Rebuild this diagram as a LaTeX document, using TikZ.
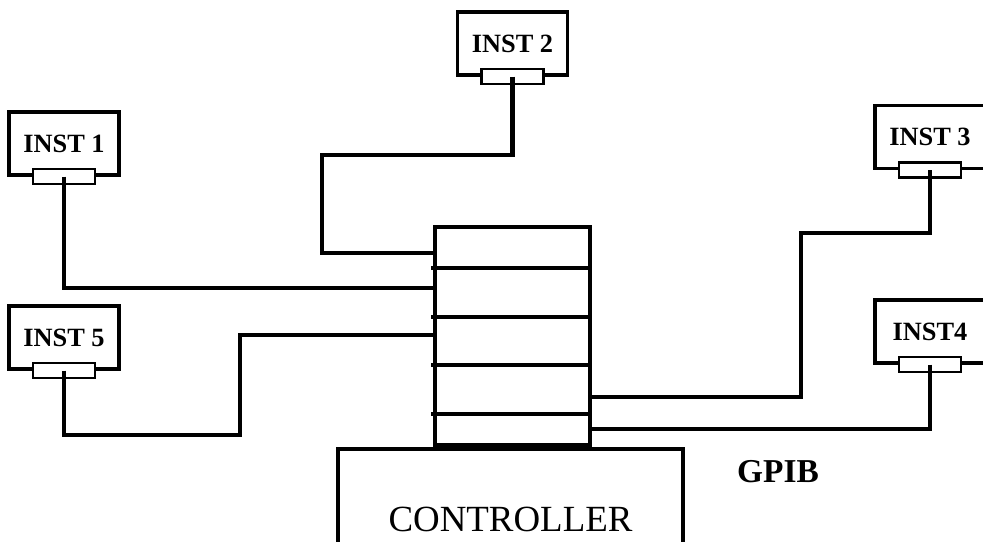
\documentclass[tikz,border=0pt]{standalone}
\usepackage{fontspec}
\setmainfont{Liberation Serif}
\usetikzlibrary{positioning}

\begin{document}
\begin{tikzpicture}[
    x=0.02cm, y=-0.02cm,
    inst/.style={rectangle, draw, line width=1.8pt, fill=white,
        minimum width=2.2cm, minimum height=1.26cm, inner sep=0pt,
        font=\fontsize{15}{15}\selectfont\bfseries},
    port/.style={rectangle, draw, line width=1.6pt, fill=white,
        minimum width=1.24cm, minimum height=0.3cm, inner sep=0pt},
    busbox/.style={rectangle, draw, line width=2.2pt,
        minimum width=3.1cm, minimum height=4.36cm, inner sep=0pt},
    ctrl/.style={rectangle, draw, line width=1.8pt,
        minimum width=6.9cm, minimum height=2.8cm, inner sep=0pt,
        font=\fontsize{21}{21}\selectfont},
    wire/.style={line width=2.8pt},
    busline/.style={line width=2.2pt}
]
\useasboundingbox (0,0) rectangle (983,541);
\clip (0,0) rectangle (983,541);
\node[inst] (i1) at (64,143.5) {INST 1};
\node[inst] (i2) at (512.5,43.5) {INST 2};
\node[inst] (i3) at (930,137) {INST 3};
\node[inst] (i4) at (930,331.5) {INST4};
\node[inst] (i5) at (64,337.5) {INST 5};
\node[port] (p1) at (i1.south) {};
\node[port] (p2) at (i2.south) {};
\node[port] (p3) at (i3.south) {};
\node[port] (p4) at (i4.south) {};
\node[port] (p5) at (i5.south) {};
\node[busbox] (bus) at (512.5,336) {};
\foreach \y in {268,317,365,414}
    \draw[busline] (431,\y) -- (bus.east |- 0,\y);
\node[ctrl] (ctrl) at (510.5,519) {CONTROLLER};
\node[font=\fontsize{19}{19}\selectfont\bfseries] (gpib) at (778,472) {GPIB};
\draw[wire] (p1.center) |- (bus.west |- 0,288);
\draw[wire] (p2.center) |- (322,155) |- (bus.west |- 0,253);
\draw[wire] (p5.center) |- (240,435) |- (bus.west |- 0,335);
\draw[wire] (p3.center) |- (801,233) |- (bus.east |- 0,397);
\draw[wire] (p4.center) |- (bus.east |- 0,429);
\end{tikzpicture}
\end{document}
